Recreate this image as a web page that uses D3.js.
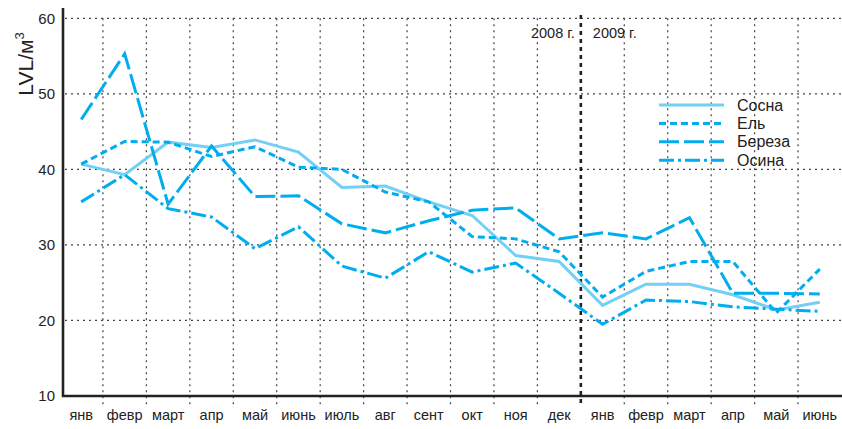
<!DOCTYPE html>
<meta charset="utf-8">
<body style="margin:0;background:#fff">
<script src="https://d3js.org/d3.v7.min.js"></script>
<script>

var months = ['янв','февр','март','апр','май','июнь','июль','авг','сент','окт','ноя','дек',
              'янв','февр','март','апр','май','июнь'];
var yTicks = [10, 20, 30, 40, 50, 60];
var sosna  = [40.7, 39.3, 43.6, 42.9, 43.9, 42.3, 37.6, 37.8, 35.7, 33.9, 28.6, 27.8, 22.0, 24.8, 24.8, 23.4, 21.4, 22.4];
var el     = [40.7, 43.7, 43.6, 41.7, 43.0, 40.3, 40.0, 37.0, 35.7, 31.1, 30.8, 29.1, 23.1, 26.5, 27.8, 27.8, 21.0, 26.8];
var bereza = [46.6, 55.3, 35.4, 43.1, 36.4, 36.5, 32.8, 31.6, 33.2, 34.6, 34.9, 30.8, 31.6, 30.8, 33.6, 23.6, 23.6, 23.5];
var osina  = [35.7, 39.3, 34.8, 33.7, 29.5, 32.4, 27.2, 25.6, 29.1, 26.4, 27.6, 23.6, 19.5, 22.7, 22.5, 21.8, 21.5, 21.2];
var names  = ['Сосна', 'Ель', 'Береза', 'Осина'];

var W = 842, H = 429;
var font = 'Liberation Sans, Arial, sans-serif';

var svg = d3.select('body').append('svg')
    .attr('width', W).attr('height', H);

var x = d3.scaleBand().domain(d3.range(months.length)).range([59.5, 841.5]);
var y = d3.scaleLinear().domain([10, 60]).range([396, 18.3]);
var axisX = 63;

// grid
var grid = svg.append('g').attr('stroke', '#444').attr('stroke-width', 1.2)
    .attr('stroke-dasharray', '2,4');
grid.selectAll('line.h').data(yTicks.slice(1)).enter().append('line')
    .attr('x1', axisX + 2).attr('x2', W)
    .attr('y1', d => y(d)).attr('y2', d => y(d));
grid.selectAll('line.v').data(d3.range(1, months.length).filter(i => i != 12)).enter().append('line')
    .attr('x1', d => x(d)).attr('x2', d => x(d))
    .attr('y1', y(60)).attr('y2', 406);

// year split
svg.append('line')
    .attr('x1', x(12)).attr('x2', x(12)).attr('y1', 15).attr('y2', 407)
    .attr('stroke', '#222').attr('stroke-width', 2.6).attr('stroke-dasharray', '4,4');
svg.append('text').text('2008 г.').attr('x', x(12) - 6).attr('y', 38)
    .attr('text-anchor', 'end').attr('font-family', font).attr('font-size', 14.5).attr('fill', '#222');
svg.append('text').text('2009 г.').attr('x', x(12) + 12).attr('y', 38)
    .attr('font-family', font).attr('font-size', 14.5).attr('fill', '#222');

// axes
svg.append('path').attr('d', `M${axisX},8V${y(10)}H${W}`)
    .attr('fill', 'none').attr('stroke', '#222').attr('stroke-width', 2.6);

var ya = svg.append('g').attr('transform', `translate(${axisX - 8},0)`)
    .call(d3.axisLeft(y).tickValues(yTicks).tickSize(0).tickPadding(0));
ya.select('.domain').remove();
ya.selectAll('text').attr('font-family', font).attr('font-size', 15).attr('fill', '#222');

var xa = svg.append('g').attr('transform', `translate(0,410)`)
    .call(d3.axisBottom(x).tickFormat(i => months[i]).tickSize(0).tickPadding(0));
xa.select('.domain').remove();
xa.selectAll('text').attr('font-family', font).attr('font-size', 14.5).attr('fill', '#222')
    .attr('dy', '0.71em');

var yl = svg.append('text').attr('transform', 'translate(33,64) rotate(-90)')
    .attr('text-anchor', 'middle').attr('font-family', font).attr('font-size', 21).attr('fill', '#222');
yl.append('tspan').text('LVL/м');
yl.append('tspan').text('3').attr('font-size', 13).attr('dy', -9);

// series
var series = [
  {name: names[0], v: sosna,  color: '#73cff5', dash: null},
  {name: names[1], v: el,     color: '#00aeef', dash: '7,4'},
  {name: names[2], v: bereza, color: '#00aeef', dash: '20,5'},
  {name: names[3], v: osina,  color: '#00aeef', dash: '15,4,3,4'}
];
var line = d3.line().x((d, i) => x(i) + x.bandwidth() / 2).y(d => y(d));

svg.selectAll('path.s').data(series).enter().append('path')
    .attr('class', 's')
    .attr('d', d => line(d.v))
    .attr('fill', 'none')
    .attr('stroke', d => d.color)
    .attr('stroke-width', 3)
    .attr('stroke-dasharray', d => d.dash);

// legend
var lg = svg.selectAll('g.lg').data(series).enter().append('g')
    .attr('transform', (d, i) => `translate(659,${105 + i * 18.4})`);
lg.append('line').attr('x1', 0).attr('x2', 65)
    .attr('stroke', d => d.color).attr('stroke-width', 3)
    .attr('stroke-dasharray', d => d.dash);
lg.append('text').text(d => d.name).attr('x', 78).attr('y', 5.5)
    .attr('font-family', font).attr('font-size', 16).attr('fill', '#222');

</script>
</body>
</html>
